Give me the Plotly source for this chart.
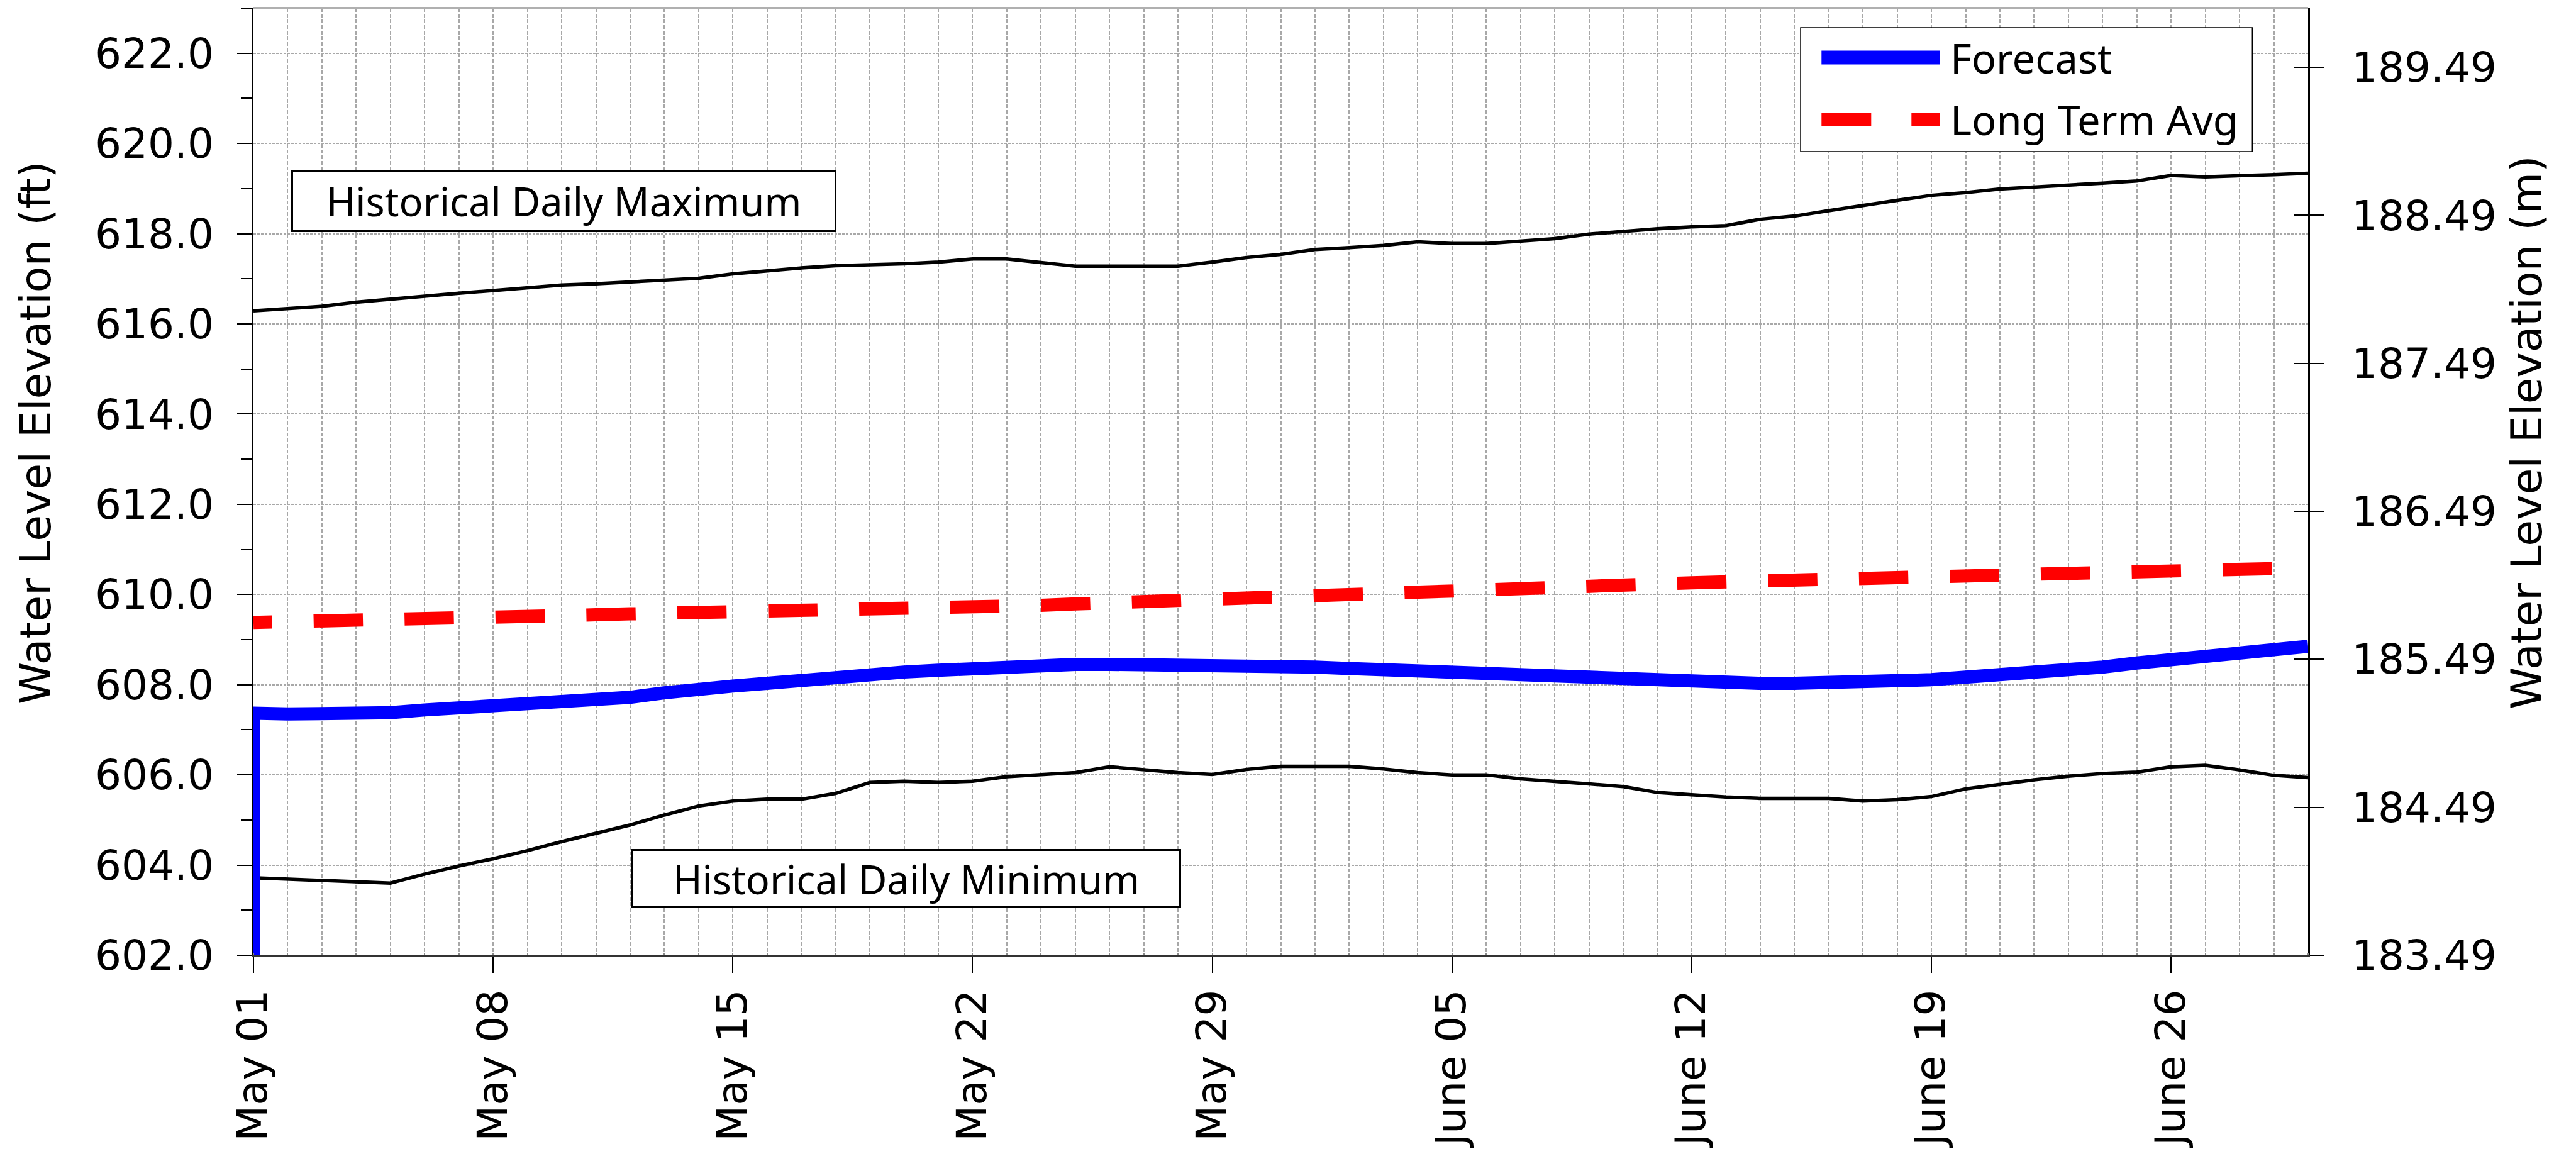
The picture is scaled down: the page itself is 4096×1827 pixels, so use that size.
import pandas as pd
import plotly.graph_objects as go

# ---------------- data ----------------
start_date = "2024-05-01"
n_days = 61
dates = pd.date_range(start_date, periods=n_days, freq="D")

hist_max = [616.29, 616.34, 616.39, 616.48, 616.55, 616.62, 616.68, 616.74, 616.80, 616.86,
            616.89, 616.93, 616.96, 617.01, 617.11, 617.18, 617.24, 617.29, 617.31, 617.33,
            617.37, 617.44, 617.44, 617.36, 617.28, 617.28, 617.28, 617.28, 617.37, 617.47,
            617.54, 617.65, 617.69, 617.74, 617.82, 617.78, 617.78, 617.83, 617.89, 617.99,
            618.05, 618.11, 618.15, 618.18, 618.32, 618.39, 618.51, 618.63, 618.74, 618.85,
            618.91, 618.99, 619.03, 619.08, 619.12, 619.17, 619.29, 619.26, 619.28, 619.31,
            619.34]

hist_min = [603.72, 603.69, 603.67, 603.64, 603.60, 603.80, 603.98, 604.14, 604.32, 604.52,
            604.71, 604.89, 605.11, 605.31, 605.42, 605.46, 605.46, 605.59, 605.83, 605.86,
            605.83, 605.86, 605.96, 606.00, 606.05, 606.18, 606.11, 606.05, 606.01, 606.12,
            606.19, 606.19, 606.19, 606.13, 606.05, 606.00, 606.00, 605.91, 605.86, 605.80,
            605.74, 605.61, 605.56, 605.51, 605.48, 605.48, 605.48, 605.42, 605.45, 605.52,
            605.69, 605.79, 605.89, 605.97, 606.03, 606.06, 606.18, 606.21, 606.11, 605.99,
            605.94]

forecast = [607.37, 607.35, 607.35, 607.35, 607.38, 607.44, 607.48, 607.51, 607.55, 607.59,
            607.62, 607.72, 607.82, 607.92, 607.97, 608.03, 608.11, 608.19, 608.23, 608.28,
            608.32, 608.36, 608.41, 608.44, 608.45, 608.45, 608.45, 608.43, 608.43, 608.40,
            608.39, 608.39, 608.36, 608.33, 608.28, 608.26, 608.23, 608.20, 608.17, 608.17,
            608.14, 608.14, 608.10, 608.06, 608.03, 608.03, 608.03, 608.06, 608.09, 608.11,
            608.16, 608.20, 608.23, 608.30, 608.39, 608.48, 608.55, 608.61, 608.70, 608.76,
            608.85]
forecast_start_value = 602.0  # forecast trace starts at the bottom of the axis on May 01

long_term_avg = [609.38, 609.39, 609.40, 609.41, 609.42, 609.44, 609.46, 609.47, 609.49, 609.52,
                 609.55, 609.57, 609.58, 609.59, 609.60, 609.61, 609.62, 609.64, 609.66, 609.68,
                 609.70, 609.72, 609.74, 609.76, 609.79, 609.82, 609.84, 609.86, 609.87, 609.88,
                 609.91, 609.93, 609.96, 610.00, 610.03, 610.06, 610.09, 610.12, 610.15, 610.18,
                 610.21, 610.23, 610.26, 610.28, 610.29, 610.30, 610.33, 610.35, 610.37, 610.39,
                 610.41, 610.43, 610.45, 610.47, 610.49, 610.51, 610.53, 610.55, 610.57, 610.58,
                 610.59]

ft_range = [602.0, 623.0]
ft_dtick = 2.0
FT_TO_M = 0.3048
m_tick_values = [183.49, 184.49, 185.49, 186.49, 187.49, 188.49, 189.49]
m_tick_text = [f"{v:.2f}" for v in m_tick_values]

# ---------------- styling ----------------
W, H = 4096, 1827
ML, MR, MT, MB = 402.7, 426.3, 13.0, 308.4
PW, PH = W - ML - MR, H - MT - MB
TICK_FONT = dict(family="DejaVu Sans", size=66, color="black")
TITLE_FONT = dict(family="DejaVu Sans", size=68, color="black")
LABEL_FONT = dict(family="Noto Sans", size=63, color="black")
GRID_COLOR = "#a8a8a8"
BLUE, RED = "#0000ff", "#ff0000"


def px_x(p):  # pixel -> paper x
    return (p - ML) / PW


def px_y(p):  # pixel -> paper y
    return 1 - (p - MT) / PH


# LTA dash pattern (phase so the first dash is partial, as in the reference)
first_dash, dash_len, gap_len = 29.5, 78.4, 66.2
parts = [first_dash, gap_len] + [dash_len, gap_len] * 26
lta_dash = ",".join(f"{v:.1f}px" for v in parts)

fig = go.Figure()

fig.add_trace(go.Scatter(x=dates, y=hist_max, mode="lines", name="Historical Daily Maximum",
                         showlegend=False, line=dict(color="black", width=5.5)))
fig.add_trace(go.Scatter(x=dates, y=hist_min, mode="lines", name="Historical Daily Minimum",
                         showlegend=False, line=dict(color="black", width=5.5)))
fig.add_trace(go.Scatter(x=dates, y=long_term_avg, mode="lines", name="Long Term Avg",
                         showlegend=False, line=dict(color=RED, width=21, dash=lta_dash)))
fig.add_trace(go.Scatter(x=[dates[0]] + list(dates), y=[forecast_start_value] + forecast,
                         mode="lines", name="Forecast", showlegend=False,
                         line=dict(color=BLUE, width=21)))
# metric axes (same data expressed in metres; invisible, only anchors the right axes)
hist_max_m = [v * FT_TO_M for v in hist_max]
for ax in ("y2", "y3"):
    fig.add_trace(go.Scatter(x=dates, y=hist_max_m, yaxis=ax, mode="lines", opacity=0,
                             showlegend=False, hoverinfo="skip",
                             line=dict(color="black", width=1)))

m_range = [ft_range[0] * FT_TO_M, ft_range[1] * FT_TO_M]

fig.update_layout(
    width=W, height=H,
    margin=dict(l=ML, r=MR, t=MT, b=MB, pad=0),
    paper_bgcolor="white", plot_bgcolor="white",
    template="none",
    font=dict(family="DejaVu Sans", color="black"),
    showlegend=False,
    xaxis=dict(
        type="date",
        range=[dates[0], dates[-1]],
        tick0=start_date, dtick=7 * 86400000, tickformat="%B %d",
        tickangle=-90, tickfont=TICK_FONT, ticklabelstandoff=0,
        ticks="outside", ticklen=25, tickwidth=2, tickcolor="black",
        showline=True, linecolor="#333333", linewidth=3,
        showgrid=True, gridcolor=GRID_COLOR, gridwidth=1.5, griddash="6px,3px",
        zeroline=False, automargin=False,
        minor=dict(dtick=86400000, tick0=start_date, ticks="inside", ticklen=4,
                   tickcolor="#888888", tickwidth=1.5, showgrid=True,
                   gridcolor=GRID_COLOR, gridwidth=1.5, griddash="6px,3px"),
    ),
    yaxis=dict(
        range=ft_range, tick0=ft_range[0], dtick=ft_dtick, tickformat=".1f",
        tickfont=TICK_FONT, ticklabelstandoff=24,
        ticks="outside", ticklen=23, tickwidth=2, tickcolor="black",
        showline=True, linecolor="black", linewidth=2.5,
        showgrid=True, gridcolor=GRID_COLOR, gridwidth=1.5, griddash="4px,2px",
        zeroline=False, automargin=False,
        minor=dict(dtick=1, ticks="outside", ticklen=17, tickwidth=2,
                   tickcolor="black", showgrid=False),
    ),
    yaxis2=dict(
        overlaying="y", side="right", range=m_range,
        tickmode="array", tickvals=m_tick_values, ticktext=m_tick_text,
        tickfont=TICK_FONT, ticklabelstandoff=30,
        ticks="outside", ticklen=23, tickwidth=2, tickcolor="black",
        showline=True, linecolor="black", linewidth=2.5,
        showgrid=False, zeroline=False, automargin=False,
    ),
    yaxis3=dict(
        overlaying="y", side="right", range=m_range,
        tickmode="array", tickvals=m_tick_values, showticklabels=False,
        ticks="inside", ticklen=23, tickwidth=2, tickcolor="black",
        showline=False, showgrid=False, zeroline=False, automargin=False,
    ),
)

# top frame line (gray)
fig.add_shape(type="line", xref="paper", yref="paper", x0=0, x1=1, y0=1, y1=1,
              line=dict(color="#b0b0b0", width=4))

# ---- legend box (drawn to match reference line thickness) ----
leg_l, leg_r, leg_t, leg_b = 2862.7, 3581.0, 44.0, 241.0
row1, row2 = 91.6, 190.0
sx0, sx1 = 2896.0, 3084.6
fig.add_shape(type="rect", xref="paper", yref="paper",
              x0=px_x(leg_l), x1=px_x(leg_r), y0=px_y(leg_b), y1=px_y(leg_t),
              line=dict(color="black", width=1.5), fillcolor="white", layer="above")
fig.add_shape(type="line", xref="paper", yref="paper", x0=px_x(sx0), x1=px_x(sx1),
              y0=px_y(row1), y1=px_y(row1), line=dict(color=BLUE, width=22), layer="above")
fig.add_shape(type="line", xref="paper", yref="paper", x0=px_x(sx0), x1=px_x(sx0 + 79),
              y0=px_y(row2), y1=px_y(row2), line=dict(color=RED, width=22), layer="above")
fig.add_shape(type="line", xref="paper", yref="paper", x0=px_x(sx0 + 143), x1=px_x(sx1),
              y0=px_y(row2), y1=px_y(row2), line=dict(color=RED, width=22), layer="above")
for txt, ry in (("Forecast", row1), ("Long Term Avg", row2)):
    fig.add_annotation(xref="paper", yref="paper", x=px_x(3099), y=px_y(ry),
                       text=txt, showarrow=False, font=dict(LABEL_FONT, size=65),
                       xanchor="left", yanchor="middle")

# labelled boxes
fig.add_annotation(xref="paper", yref="paper", x=0.1511, y=0.7968,
                   text="Historical Daily Maximum", showarrow=False,
                   font=LABEL_FONT, bgcolor="white", bordercolor="black",
                   borderwidth=3, borderpad=0, width=861, height=93,
                   xanchor="center", yanchor="middle")
fig.add_annotation(xref="paper", yref="paper", x=0.3176, y=0.0812,
                   text="Historical Daily Minimum", showarrow=False,
                   font=LABEL_FONT, bgcolor="white", bordercolor="black",
                   borderwidth=3, borderpad=0, width=868, height=88,
                   xanchor="center", yanchor="middle")

# axis titles
fig.add_annotation(xref="paper", yref="paper", x=-0.1061, y=0.552,
                   text="Water Level Elevation (ft)", showarrow=False, textangle=-90,
                   font=TITLE_FONT, xanchor="center", yanchor="middle")
fig.add_annotation(xref="paper", yref="paper", x=1.1063, y=0.552,
                   text="Water Level Elevation (m)", showarrow=False, textangle=-90,
                   font=TITLE_FONT, xanchor="center", yanchor="middle")

fig.write_html("out.html", config={"displayModeBar": False},
               post_script="document.body.style.margin='0';document.body.style.overflow='hidden';")
